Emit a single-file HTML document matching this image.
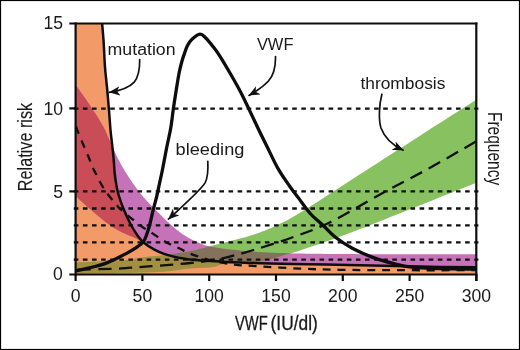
<!DOCTYPE html>
<html><head><meta charset="utf-8"><title>VWF relative risk</title>
<style>html,body{margin:0;padding:0;background:#fff;width:520px;height:350px;overflow:hidden}
svg{display:block;will-change:transform}</style></head>
<body>
<svg width="520" height="350" viewBox="0 0 520 350">
<defs>
<clipPath id="cO"><path d="M102,22 C102.27,25.23 103.1,33.9 103.6,41.4 C104.1,48.9 104.37,58.67 105,67 C105.63,75.33 106.7,83.73 107.4,91.4 C108.1,99.07 108.68,106.57 109.2,113 C109.72,119.43 110.02,124.78 110.5,130 C110.98,135.22 111.58,139.53 112.1,144.3 C112.62,149.07 113.13,153.48 113.6,158.6 C114.07,163.72 114.2,169.43 114.9,175 C115.6,180.57 116.45,186.58 117.8,192 C119.15,197.42 120.97,202.33 123,207.5 C125.03,212.67 127.58,218.33 130,223 C132.42,227.67 135.25,232.25 137.5,235.5 C139.75,238.75 140.68,240.15 143.5,242.5 C146.32,244.85 150.98,247.72 154.4,249.6 C157.82,251.48 160.78,252.63 164,253.8 C167.22,254.97 170.48,255.8 173.7,256.6 C176.92,257.4 180.58,258.12 183.3,258.6 C186.02,259.08 187.05,259.18 190,259.5 C192.95,259.82 196,260.15 201,260.5 C206,260.85 210.17,261.15 220,261.6 C229.83,262.05 245,262.75 260,263.2 C275,263.65 293.33,263.97 310,264.3 C326.67,264.63 341.67,264.82 360,265.2 C378.33,265.58 400.42,266.25 420,266.6 C439.58,266.95 467.92,267.18 477.5,267.3 L477.5,276 L74.5,276 L74.5,22 Z"/></clipPath>
<clipPath id="cP"><path d="M75.6,84.8 C78.2,88.53 86.6,100.27 91.2,107.2 C95.8,114.13 99.4,119.22 103.2,126.4 C107,133.58 110.92,143.75 114,150.3 C117.08,156.85 118.98,160.83 121.7,165.7 C124.42,170.57 127.43,175.2 130.3,179.5 C133.17,183.8 136.28,188.08 138.9,191.5 C141.52,194.92 143.15,196.88 146,200 C148.85,203.12 151.77,206 156,210.2 C160.23,214.4 166.57,220.93 171.4,225.2 C176.23,229.47 180.53,232.93 185,235.8 C189.47,238.67 194.03,240.6 198.2,242.4 C202.37,244.2 204.7,245.4 210,246.6 C215.3,247.8 221.67,248.7 230,249.6 C238.33,250.5 248.33,251.33 260,252 C271.67,252.67 283.33,253.23 300,253.6 C316.67,253.97 330.42,254.08 360,254.2 C389.58,254.32 457.92,254.28 477.5,254.3 L477.5,267.3 L477.5,267.3 C467.92,267.18 439.58,266.95 420,266.6 C400.42,266.25 378.33,265.58 360,265.2 C341.67,264.82 326.67,264.63 310,264.3 C293.33,263.97 275,263.65 260,263.2 C245,262.75 229.83,262.05 220,261.6 C210.17,261.15 206,260.85 201,260.5 C196,260.15 192.95,259.82 190,259.5 C187.05,259.18 186.02,259.08 183.3,258.6 C180.58,258.12 176.92,257.4 173.7,256.6 C170.48,255.8 167.22,254.97 164,253.8 C160.78,252.63 157.82,251.48 154.4,249.6 C150.98,247.72 145.32,243.68 143.5,242.5 L143.5,242.5 C142.08,241.75 139.92,240.42 135,238 C130.08,235.58 120.83,232.25 114,228 C107.17,223.75 100.4,217.83 94,212.5 C87.6,207.17 78.67,198.75 75.6,196 Z"/></clipPath>
<clipPath id="cG"><path d="M75.6,262.4 C79.67,262.23 91.77,261.77 100,261.4 C108.23,261.03 118.33,260.8 125,260.2 C131.67,259.6 135.83,258.43 140,257.8 C144.17,257.17 146.17,256.83 150,256.4 C153.83,255.97 157.17,255.93 163,255.2 C168.83,254.47 177.5,253.42 185,252 C192.5,250.58 197.17,249.4 208,246.7 C218.83,244 238.5,239.37 250,235.8 C261.5,232.23 268.67,229.13 277,225.3 C285.33,221.47 289.5,219.15 300,212.8 C310.5,206.45 326.67,195.75 340,187.2 C353.33,178.65 366.67,170.07 380,161.5 C393.33,152.93 403.75,146.22 420,135.8 C436.25,125.38 467.92,105.13 477.5,99 L477.5,182.2 L477.5,182.2 C471.25,184.7 452.92,192.03 440,197.2 C427.08,202.37 413.33,207.88 400,213.2 C386.67,218.52 371.67,224.58 360,229.1 C348.33,233.62 340,236.73 330,240.3 C320,243.87 307.25,248.13 300,250.5 C292.75,252.87 293,252.67 286.5,254.5 C280,256.33 271.08,260 261,261.5 C250.92,263 234,262.58 226,263.5 C218,264.42 219,266.17 213,267 C207,267.83 199.5,267.67 190,268.5 C180.5,269.33 175.07,271.17 156,272 C136.93,272.83 89,273.25 75.6,273.5 Z"/></clipPath>
<clipPath id="cPlot"><rect x="75.6" y="23.5" width="400.8" height="251"/></clipPath>
<marker id="ah" viewBox="0 0 11 9.4" refX="10.6" refY="4.7" markerWidth="11" markerHeight="9.4" markerUnits="userSpaceOnUse" orient="auto"><path d="M0,0 L11,4.7 L0,9.4 L3,4.7 Z" fill="#111"/></marker>
</defs>
<rect x="0" y="0" width="520" height="350" fill="#fff"/>
<g clip-path="url(#cPlot)">
<path d="M102,22 C102.27,25.23 103.1,33.9 103.6,41.4 C104.1,48.9 104.37,58.67 105,67 C105.63,75.33 106.7,83.73 107.4,91.4 C108.1,99.07 108.68,106.57 109.2,113 C109.72,119.43 110.02,124.78 110.5,130 C110.98,135.22 111.58,139.53 112.1,144.3 C112.62,149.07 113.13,153.48 113.6,158.6 C114.07,163.72 114.2,169.43 114.9,175 C115.6,180.57 116.45,186.58 117.8,192 C119.15,197.42 120.97,202.33 123,207.5 C125.03,212.67 127.58,218.33 130,223 C132.42,227.67 135.25,232.25 137.5,235.5 C139.75,238.75 140.68,240.15 143.5,242.5 C146.32,244.85 150.98,247.72 154.4,249.6 C157.82,251.48 160.78,252.63 164,253.8 C167.22,254.97 170.48,255.8 173.7,256.6 C176.92,257.4 180.58,258.12 183.3,258.6 C186.02,259.08 187.05,259.18 190,259.5 C192.95,259.82 196,260.15 201,260.5 C206,260.85 210.17,261.15 220,261.6 C229.83,262.05 245,262.75 260,263.2 C275,263.65 293.33,263.97 310,264.3 C326.67,264.63 341.67,264.82 360,265.2 C378.33,265.58 400.42,266.25 420,266.6 C439.58,266.95 467.92,267.18 477.5,267.3 L477.5,276 L74.5,276 L74.5,22 Z" fill="#f29a68"/>
<path d="M75.6,84.8 C78.2,88.53 86.6,100.27 91.2,107.2 C95.8,114.13 99.4,119.22 103.2,126.4 C107,133.58 110.92,143.75 114,150.3 C117.08,156.85 118.98,160.83 121.7,165.7 C124.42,170.57 127.43,175.2 130.3,179.5 C133.17,183.8 136.28,188.08 138.9,191.5 C141.52,194.92 143.15,196.88 146,200 C148.85,203.12 151.77,206 156,210.2 C160.23,214.4 166.57,220.93 171.4,225.2 C176.23,229.47 180.53,232.93 185,235.8 C189.47,238.67 194.03,240.6 198.2,242.4 C202.37,244.2 204.7,245.4 210,246.6 C215.3,247.8 221.67,248.7 230,249.6 C238.33,250.5 248.33,251.33 260,252 C271.67,252.67 283.33,253.23 300,253.6 C316.67,253.97 330.42,254.08 360,254.2 C389.58,254.32 457.92,254.28 477.5,254.3 L477.5,267.3 L477.5,267.3 C467.92,267.18 439.58,266.95 420,266.6 C400.42,266.25 378.33,265.58 360,265.2 C341.67,264.82 326.67,264.63 310,264.3 C293.33,263.97 275,263.65 260,263.2 C245,262.75 229.83,262.05 220,261.6 C210.17,261.15 206,260.85 201,260.5 C196,260.15 192.95,259.82 190,259.5 C187.05,259.18 186.02,259.08 183.3,258.6 C180.58,258.12 176.92,257.4 173.7,256.6 C170.48,255.8 167.22,254.97 164,253.8 C160.78,252.63 157.82,251.48 154.4,249.6 C150.98,247.72 145.32,243.68 143.5,242.5 L143.5,242.5 C142.08,241.75 139.92,240.42 135,238 C130.08,235.58 120.83,232.25 114,228 C107.17,223.75 100.4,217.83 94,212.5 C87.6,207.17 78.67,198.75 75.6,196 Z" fill="#c672b9"/>
<path d="M75.6,262.4 C79.67,262.23 91.77,261.77 100,261.4 C108.23,261.03 118.33,260.8 125,260.2 C131.67,259.6 135.83,258.43 140,257.8 C144.17,257.17 146.17,256.83 150,256.4 C153.83,255.97 157.17,255.93 163,255.2 C168.83,254.47 177.5,253.42 185,252 C192.5,250.58 197.17,249.4 208,246.7 C218.83,244 238.5,239.37 250,235.8 C261.5,232.23 268.67,229.13 277,225.3 C285.33,221.47 289.5,219.15 300,212.8 C310.5,206.45 326.67,195.75 340,187.2 C353.33,178.65 366.67,170.07 380,161.5 C393.33,152.93 403.75,146.22 420,135.8 C436.25,125.38 467.92,105.13 477.5,99 L477.5,182.2 L477.5,182.2 C471.25,184.7 452.92,192.03 440,197.2 C427.08,202.37 413.33,207.88 400,213.2 C386.67,218.52 371.67,224.58 360,229.1 C348.33,233.62 340,236.73 330,240.3 C320,243.87 307.25,248.13 300,250.5 C292.75,252.87 293,252.67 286.5,254.5 C280,256.33 271.08,260 261,261.5 C250.92,263 234,262.58 226,263.5 C218,264.42 219,266.17 213,267 C207,267.83 199.5,267.67 190,268.5 C180.5,269.33 175.07,271.17 156,272 C136.93,272.83 89,273.25 75.6,273.5 Z" fill="#87c160"/>
<g clip-path="url(#cO)"><path d="M75.6,84.8 C78.2,88.53 86.6,100.27 91.2,107.2 C95.8,114.13 99.4,119.22 103.2,126.4 C107,133.58 110.92,143.75 114,150.3 C117.08,156.85 118.98,160.83 121.7,165.7 C124.42,170.57 127.43,175.2 130.3,179.5 C133.17,183.8 136.28,188.08 138.9,191.5 C141.52,194.92 143.15,196.88 146,200 C148.85,203.12 151.77,206 156,210.2 C160.23,214.4 166.57,220.93 171.4,225.2 C176.23,229.47 180.53,232.93 185,235.8 C189.47,238.67 194.03,240.6 198.2,242.4 C202.37,244.2 204.7,245.4 210,246.6 C215.3,247.8 221.67,248.7 230,249.6 C238.33,250.5 248.33,251.33 260,252 C271.67,252.67 283.33,253.23 300,253.6 C316.67,253.97 330.42,254.08 360,254.2 C389.58,254.32 457.92,254.28 477.5,254.3 L477.5,267.3 L477.5,267.3 C467.92,267.18 439.58,266.95 420,266.6 C400.42,266.25 378.33,265.58 360,265.2 C341.67,264.82 326.67,264.63 310,264.3 C293.33,263.97 275,263.65 260,263.2 C245,262.75 229.83,262.05 220,261.6 C210.17,261.15 206,260.85 201,260.5 C196,260.15 192.95,259.82 190,259.5 C187.05,259.18 186.02,259.08 183.3,258.6 C180.58,258.12 176.92,257.4 173.7,256.6 C170.48,255.8 167.22,254.97 164,253.8 C160.78,252.63 157.82,251.48 154.4,249.6 C150.98,247.72 145.32,243.68 143.5,242.5 L143.5,242.5 C142.08,241.75 139.92,240.42 135,238 C130.08,235.58 120.83,232.25 114,228 C107.17,223.75 100.4,217.83 94,212.5 C87.6,207.17 78.67,198.75 75.6,196 Z" fill="#c94c57"/></g>
<g clip-path="url(#cO)"><path d="M75.6,262.4 C79.67,262.23 91.77,261.77 100,261.4 C108.23,261.03 118.33,260.8 125,260.2 C131.67,259.6 135.83,258.43 140,257.8 C144.17,257.17 146.17,256.83 150,256.4 C153.83,255.97 157.17,255.93 163,255.2 C168.83,254.47 177.5,253.42 185,252 C192.5,250.58 197.17,249.4 208,246.7 C218.83,244 238.5,239.37 250,235.8 C261.5,232.23 268.67,229.13 277,225.3 C285.33,221.47 289.5,219.15 300,212.8 C310.5,206.45 326.67,195.75 340,187.2 C353.33,178.65 366.67,170.07 380,161.5 C393.33,152.93 403.75,146.22 420,135.8 C436.25,125.38 467.92,105.13 477.5,99 L477.5,182.2 L477.5,182.2 C471.25,184.7 452.92,192.03 440,197.2 C427.08,202.37 413.33,207.88 400,213.2 C386.67,218.52 371.67,224.58 360,229.1 C348.33,233.62 340,236.73 330,240.3 C320,243.87 307.25,248.13 300,250.5 C292.75,252.87 293,252.67 286.5,254.5 C280,256.33 271.08,260 261,261.5 C250.92,263 234,262.58 226,263.5 C218,264.42 219,266.17 213,267 C207,267.83 199.5,267.67 190,268.5 C180.5,269.33 175.07,271.17 156,272 C136.93,272.83 89,273.25 75.6,273.5 Z" fill="#a38f42"/></g>
<g clip-path="url(#cP)"><path d="M75.6,262.4 C79.67,262.23 91.77,261.77 100,261.4 C108.23,261.03 118.33,260.8 125,260.2 C131.67,259.6 135.83,258.43 140,257.8 C144.17,257.17 146.17,256.83 150,256.4 C153.83,255.97 157.17,255.93 163,255.2 C168.83,254.47 177.5,253.42 185,252 C192.5,250.58 197.17,249.4 208,246.7 C218.83,244 238.5,239.37 250,235.8 C261.5,232.23 268.67,229.13 277,225.3 C285.33,221.47 289.5,219.15 300,212.8 C310.5,206.45 326.67,195.75 340,187.2 C353.33,178.65 366.67,170.07 380,161.5 C393.33,152.93 403.75,146.22 420,135.8 C436.25,125.38 467.92,105.13 477.5,99 L477.5,182.2 L477.5,182.2 C471.25,184.7 452.92,192.03 440,197.2 C427.08,202.37 413.33,207.88 400,213.2 C386.67,218.52 371.67,224.58 360,229.1 C348.33,233.62 340,236.73 330,240.3 C320,243.87 307.25,248.13 300,250.5 C292.75,252.87 293,252.67 286.5,254.5 C280,256.33 271.08,260 261,261.5 C250.92,263 234,262.58 226,263.5 C218,264.42 219,266.17 213,267 C207,267.83 199.5,267.67 190,268.5 C180.5,269.33 175.07,271.17 156,272 C136.93,272.83 89,273.25 75.6,273.5 Z" fill="#85725d"/></g>
</g>
<line x1="73.8" y1="108.6" x2="478.4" y2="108.6" stroke="#111" stroke-width="2.3" stroke-dasharray="4.6 4.5" stroke-dashoffset="0"/>
<line x1="73.8" y1="191.4" x2="478.4" y2="191.4" stroke="#111" stroke-width="2.3" stroke-dasharray="4.6 4.5" stroke-dashoffset="0"/>
<line x1="73.8" y1="208.5" x2="478.4" y2="208.5" stroke="#111" stroke-width="2.3" stroke-dasharray="4.6 4.5" stroke-dashoffset="0"/>
<line x1="73.8" y1="225.3" x2="478.4" y2="225.3" stroke="#111" stroke-width="2.3" stroke-dasharray="4.6 4.5" stroke-dashoffset="0"/>
<line x1="73.8" y1="242.3" x2="478.4" y2="242.3" stroke="#111" stroke-width="2.3" stroke-dasharray="4.6 4.5" stroke-dashoffset="0"/>
<line x1="73.8" y1="259.6" x2="478.4" y2="259.6" stroke="#111" stroke-width="2.3" stroke-dasharray="4.6 4.5" stroke-dashoffset="0"/>
<g clip-path="url(#cPlot)" fill="none" stroke="#111" stroke-width="2.3">
<path id="bleedp" d="M75.6,125.2 C75.92,126.12 76.27,127.57 77.5,130.7 C78.73,133.83 81.15,139.62 83,144 C84.85,148.38 87.05,153.25 88.6,157 C90.15,160.75 91.03,163.58 92.3,166.5 C93.57,169.42 94.92,171.92 96.2,174.5 C97.48,177.08 98.7,179.62 100,182 C101.3,184.38 102.67,186.72 104,188.8 C105.33,190.88 106.67,192.72 108,194.5 C109.33,196.28 110.57,197.78 112,199.5 C113.43,201.22 115.27,203.25 116.6,204.8 C117.93,206.35 117.65,206.63 120,208.8 C122.35,210.97 127.13,214.9 130.7,217.8 C134.27,220.7 137.93,223.7 141.4,226.2 C144.87,228.7 147.65,230.28 151.5,232.8 C155.35,235.32 161.28,239.33 164.5,241.3 C167.72,243.27 168.55,243.52 170.8,244.6 C173.05,245.68 175.77,246.75 178,247.8 C180.23,248.85 181.42,249.63 184.2,250.9 C186.98,252.17 189.57,253.68 194.7,255.4 C199.83,257.12 208.35,259.67 215,261.2 C221.65,262.73 228.35,263.82 234.6,264.6 C240.85,265.38 241.6,265.23 252.5,265.9 C263.4,266.57 285.42,267.95 300,268.6 C314.58,269.25 323.33,269.53 340,269.8 C356.67,270.07 377.27,270.13 400,270.2 C422.73,270.27 463.67,270.2 476.4,270.2" stroke-dasharray="8 6.85" stroke-dashoffset="-1.45"/>
<path id="thrombp" d="M75.6,269.6 C81.5,269.48 101.83,269.22 111,268.9 C120.17,268.58 123.87,268.15 130.6,267.7 C137.33,267.25 141.5,266.98 151.4,266.2 C161.3,265.42 178.4,264.27 190,263 C201.6,261.73 210.4,260.77 221,258.6 C231.6,256.43 241.77,253.52 253.6,250 C265.43,246.48 279.32,242.08 292,237.5 C304.68,232.92 315.03,229.68 329.7,222.5 C344.37,215.32 364.42,202.9 380,194.4 C395.58,185.9 410,178.7 423.2,171.5 C436.4,164.3 450.33,156.25 459.2,151.2 C468.07,146.15 473.53,142.87 476.4,141.2" stroke-dasharray="13.2 7.42" stroke-dashoffset="-2.08"/>
</g>
<g clip-path="url(#cPlot)" fill="none" stroke="#0d0d0d" stroke-linejoin="round" stroke-linecap="round">
<path d="M102,22 C102.27,25.23 103.1,33.9 103.6,41.4 C104.1,48.9 104.37,58.67 105,67 C105.63,75.33 106.7,83.73 107.4,91.4 C108.1,99.07 108.68,106.57 109.2,113 C109.72,119.43 110.02,124.78 110.5,130 C110.98,135.22 111.58,139.53 112.1,144.3 C112.62,149.07 113.13,153.48 113.6,158.6 C114.07,163.72 114.2,169.43 114.9,175 C115.6,180.57 116.45,186.58 117.8,192 C119.15,197.42 120.97,202.33 123,207.5 C125.03,212.67 127.58,218.33 130,223 C132.42,227.67 135.25,232.25 137.5,235.5 C139.75,238.75 140.68,240.15 143.5,242.5 C146.32,244.85 150.98,247.72 154.4,249.6 C157.82,251.48 160.78,252.63 164,253.8 C167.22,254.97 170.48,255.8 173.7,256.6 C176.92,257.4 180.58,258.12 183.3,258.6 C186.02,259.08 187.05,259.18 190,259.5 C192.95,259.82 196,260.15 201,260.5 C206,260.85 210.17,261.15 220,261.6 C229.83,262.05 245,262.75 260,263.2 C275,263.65 293.33,263.97 310,264.3 C326.67,264.63 341.67,264.82 360,265.2 C378.33,265.58 400.42,266.25 420,266.6 C439.58,266.95 467.92,267.18 477.5,267.3" stroke-width="2.5"/>
<path d="M75.6,270.9 C77.17,270.57 81.77,269.63 85,268.9 C88.23,268.17 91.67,267.38 95,266.5 C98.33,265.62 102,264.65 105,263.6 C108,262.55 110.5,261.33 113,260.2 C115.5,259.07 117.67,257.98 120,256.8 C122.33,255.62 124.83,254.3 127,253.1 C129.17,251.9 131.17,250.73 133,249.6 C134.83,248.47 136.53,247.33 138,246.3 C139.47,245.27 140.68,244.52 141.8,243.4 C142.92,242.28 143.8,241.33 144.7,239.6 C145.6,237.87 146.35,235.52 147.2,233 C148.05,230.48 148.78,228.42 149.8,224.5 C150.82,220.58 152.13,214.25 153.3,209.5 C154.47,204.75 155.75,200.42 156.8,196 C157.85,191.58 158.67,187.33 159.6,183 C160.53,178.67 161.23,175.83 162.4,170 C163.57,164.17 165.22,154.95 166.6,148 C167.98,141.05 169.57,134.87 170.7,128.3 C171.83,121.73 172.45,115.15 173.4,108.6 C174.35,102.05 175.43,95.02 176.4,89 C177.37,82.98 178.27,77.17 179.2,72.5 C180.13,67.83 181.07,64.33 182,61 C182.93,57.67 183.88,55.08 184.8,52.5 C185.72,49.92 186.3,47.72 187.5,45.5 C188.7,43.28 189.92,41.08 192,39.2 C194.08,37.32 197.67,34.37 200,34.2 C202.33,34.03 203.85,36.17 206,38.2 C208.15,40.23 210.57,43.37 212.9,46.4 C215.23,49.43 216.92,51.55 220,56.4 C223.08,61.25 227.97,69.57 231.4,75.5 C234.83,81.43 237.72,86.48 240.6,92 C243.48,97.52 245.82,102.6 248.7,108.6 C251.58,114.6 254.85,121.68 257.9,128 C260.95,134.32 263.67,139.77 267,146.5 C270.33,153.23 274.18,161.87 277.9,168.4 C281.62,174.93 285.87,180.77 289.3,185.7 C292.73,190.63 294.93,193.28 298.5,198 C302.07,202.72 306.67,209.5 310.7,214 C314.73,218.5 318.58,221.12 322.7,225 C326.82,228.88 330.47,233.43 335.4,237.3 C340.33,241.17 345.97,244.82 352.3,248.2 C358.63,251.58 366.35,254.98 373.4,257.6 C380.45,260.22 388.25,262.3 394.6,263.9 C400.95,265.5 403.93,266.4 411.5,267.2 C419.07,268 429,268.37 440,268.7 C451,269.03 471.25,269.12 477.5,269.2" stroke-width="3.3"/>
</g>
<g stroke="#0d0d0d" stroke-width="2.2" fill="none" stroke-linecap="butt">
<path d="M75.6,22.4 V275.6"/>
<path d="M476.3,22.4 V281"/>
<path d="M69.3,23.5 H477.4"/>
<path d="M69.3,274.5 H477.4"/>
<path d="M69.3,108.4 H75.6"/>
<path d="M69.3,191.4 H75.6"/>
<path d="M75.6,274.5 V281"/>
<path d="M142.4,274.5 V281"/>
<path d="M209.2,274.5 V281"/>
<path d="M276,274.5 V281"/>
<path d="M342.8,274.5 V281"/>
<path d="M409.6,274.5 V281"/>
<path d="M476.4,274.5 V281"/>
</g>
<g fill="none" stroke="#111" stroke-width="1.7" stroke-linecap="round">
<path d="M139.7,59.5 C139.8,68 138.8,76.5 134.2,82.2 C128.5,88.3 120,91 109.4,92.3" marker-end="url(#ah)"/>
<path d="M275.5,56.5 C275.7,66 274.5,74 268.5,81 C263,87 256,91.5 249,95.4" marker-end="url(#ah)"/>
<path d="M381.9,94.2 C379,105 378.5,120 381,128 C385,139 393,145.5 403.2,150.2" marker-end="url(#ah)"/>
<path d="M207.8,161.4 C208.2,169.5 207.8,177.5 205.2,182.6 C201,190 182,206.5 168.4,219.2" marker-end="url(#ah)"/>
</g>
<text x="63.1" y="29" font-size="17.6" text-anchor="end" font-family="Liberation Sans, sans-serif" fill="#1a1a1a" >15</text>
<text x="63.1" y="114.7" font-size="17.6" text-anchor="end" font-family="Liberation Sans, sans-serif" fill="#1a1a1a" >10</text>
<text x="63.1" y="197.7" font-size="17.6" text-anchor="end" font-family="Liberation Sans, sans-serif" fill="#1a1a1a" >5</text>
<text x="62.9" y="279.8" font-size="17.6" text-anchor="end" font-family="Liberation Sans, sans-serif" fill="#1a1a1a" >0</text>
<text x="75.6" y="302.2" font-size="17.6" text-anchor="middle" font-family="Liberation Sans, sans-serif" fill="#1a1a1a" >0</text>
<text x="142.4" y="302.2" font-size="17.6" text-anchor="middle" font-family="Liberation Sans, sans-serif" fill="#1a1a1a" >50</text>
<text x="209.2" y="302.2" font-size="17.6" text-anchor="middle" font-family="Liberation Sans, sans-serif" fill="#1a1a1a" >100</text>
<text x="276" y="302.2" font-size="17.6" text-anchor="middle" font-family="Liberation Sans, sans-serif" fill="#1a1a1a" >150</text>
<text x="342.8" y="302.2" font-size="17.6" text-anchor="middle" font-family="Liberation Sans, sans-serif" fill="#1a1a1a" >200</text>
<text x="409.6" y="302.2" font-size="17.6" text-anchor="middle" font-family="Liberation Sans, sans-serif" fill="#1a1a1a" >250</text>
<text x="476.4" y="302.2" font-size="17.6" text-anchor="middle" font-family="Liberation Sans, sans-serif" fill="#1a1a1a" >300</text>
<text x="235" y="330.2" font-size="19.6" text-anchor="start" textLength="32.8" lengthAdjust="spacingAndGlyphs" font-family="Liberation Sans, sans-serif" fill="#1a1a1a" stroke="#1a1a1a" stroke-width="0.3">VWF</text>
<text x="270.6" y="330.2" font-size="19.6" text-anchor="start" textLength="47.2" lengthAdjust="spacingAndGlyphs" font-family="Liberation Sans, sans-serif" fill="#1a1a1a" stroke="#1a1a1a" stroke-width="0.3">(IU/dl)</text>
<g transform="translate(31.7,191.2) rotate(-90)"><text x="0" y="0" font-size="19.8" text-anchor="start" textLength="88.4" lengthAdjust="spacingAndGlyphs" font-family="Liberation Sans, sans-serif" fill="#1a1a1a" stroke="#1a1a1a" stroke-width="0.1">Relative risk</text></g>
<g transform="translate(488.4,111.9) rotate(90)"><text x="0" y="0" font-size="19.6" text-anchor="start" textLength="73.4" lengthAdjust="spacingAndGlyphs" font-family="Liberation Sans, sans-serif" fill="#1a1a1a" >Frequency</text></g>
<text x="107.6" y="55.3" font-size="15.6" text-anchor="start" textLength="68" lengthAdjust="spacingAndGlyphs" font-family="Liberation Sans, sans-serif" fill="#1a1a1a" >mutation</text>
<text x="256.9" y="50.2" font-size="16.8" text-anchor="start" textLength="36.6" lengthAdjust="spacingAndGlyphs" font-family="Liberation Sans, sans-serif" fill="#1a1a1a" >VWF</text>
<text x="360.4" y="88.6" font-size="16" text-anchor="start" textLength="85" lengthAdjust="spacingAndGlyphs" font-family="Liberation Sans, sans-serif" fill="#1a1a1a" >thrombosis</text>
<text x="175.6" y="154.7" font-size="16" text-anchor="start" textLength="68.8" lengthAdjust="spacingAndGlyphs" font-family="Liberation Sans, sans-serif" fill="#1a1a1a" >bleeding</text>
<rect x="0.5" y="0.5" width="519" height="349" fill="none" stroke="#000" stroke-width="1.2"/>
</svg>
</body></html>
